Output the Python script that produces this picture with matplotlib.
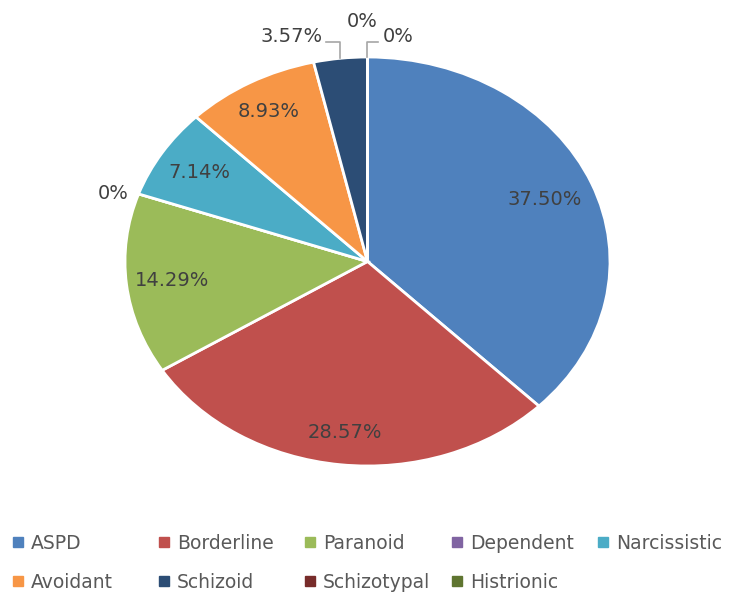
import matplotlib.pyplot as plt
from matplotlib.lines import Line2D
import numpy as np

plt.rcParams['font.family'] = ['DejaVu Sans']

labels = ['ASPD', 'Borderline', 'Paranoid', 'Dependent', 'Narcissistic',
          'Avoidant', 'Schizoid', 'Schizotypal', 'Histrionic']
values = [37.50, 28.57, 14.29, 0, 7.14, 8.93, 3.57, 0, 0]
colors = ['#4F81BD', '#C0504D', '#9BBB59', '#8064A2', '#4BACC6',
          '#F79646', '#2C4D75', '#772C2A', '#5F7530']
# label distance from centre for the inside labels
inside_r = [0.79, 0.84, 0.81, 0, 0.82, 0.84, 0, 0, 0]

txt = '#404040'
fs = 14
fig = plt.figure(figsize=(7.29, 5.92), dpi=100)
ax = fig.add_axes([125/729, 1-466/592, 485/729, 409/592])

wedges, _ = ax.pie(values, colors=colors, startangle=90, counterclock=False,
                   wedgeprops=dict(edgecolor='white', linewidth=2))
ax.set_aspect('auto')
ax.set_xlim(-1, 1)
ax.set_ylim(-1, 1)

def edge(w, r=1.0):
    a = np.deg2rad((w.theta1 + w.theta2) / 2)
    return r * np.cos(a), r * np.sin(a)

for w, v, r in zip(wedges, values, inside_r):
    if v > 5:
        x, y = edge(w, r)
        ax.text(x, y, '%.2f%%' % v, ha='center', va='center', color=txt, fontsize=fs)

lc = '#A6A6A6'
# Dependent 0%
x0, y0 = edge(wedges[3])
ax.text(x0 - 0.043, y0, '0%', ha='right', va='center', color=txt, fontsize=fs)
# Schizoid 3.57% with leader line
x0, y0 = edge(wedges[6])
ax.plot([x0, x0, x0 - 0.058], [y0, 1.075, 1.075], color=lc, lw=1.2, clip_on=False)
ax.text(x0 - 0.075, 1.10, '%.2f%%' % values[6], ha='right', va='center', color=txt, fontsize=fs)
# Schizotypal 0%
x0, y0 = edge(wedges[7])
ax.text(x0 - 0.023, 1.173, '0%', ha='center', va='center', color=txt, fontsize=fs)
# Histrionic 0% with leader line
x0, y0 = edge(wedges[8])
ax.plot([x0 - 0.003, x0 - 0.003, x0 + 0.043], [y0, 1.075, 1.075], color=lc, lw=1.2, clip_on=False)
ax.text(x0 + 0.064, 1.10, '0%', ha='left', va='center', color=txt, fontsize=fs)

# legend: grid of 5 fixed-width columns, filled row by row
ncols = 5
col_x = [10.2, 156.2, 302.2, 449.2, 595.2]
for c in range(ncols):
    idx = list(range(c, len(labels), ncols))
    handles = [Line2D([], [], marker='s', linestyle='none', markersize=7,
                      markerfacecolor=colors[i], markeredgecolor=colors[i]) for i in idx]
    fig.legend(handles, [labels[i] for i in idx], loc='upper left',
               bbox_to_anchor=(col_x[c] / 729, 1 - 534 / 592), frameon=False, fontsize=13.5,
               labelcolor='#595959', handlelength=0.8, handletextpad=0.32,
               borderpad=0, borderaxespad=0, labelspacing=1.05)

fig.savefig('out.png', dpi=100)
